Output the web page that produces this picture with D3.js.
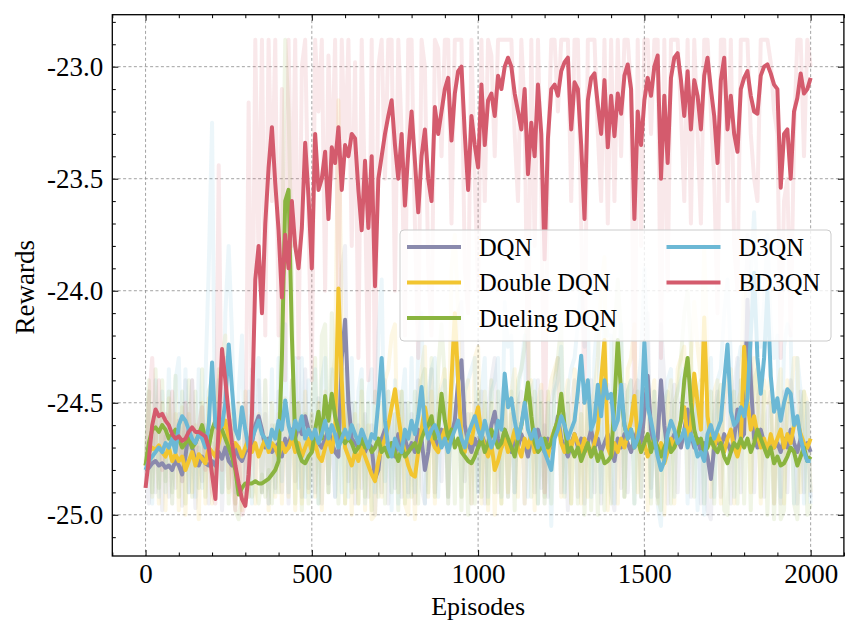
<!DOCTYPE html>
<html>
<head>
<meta charset="utf-8">
<script src="https://cdn.jsdelivr.net/npm/d3@7"></script>
<style>
  html, body { margin: 0; padding: 0; background: #fff; }
  svg { display: block; }
  text { font-family: "Liberation Serif", "Times New Roman", serif; fill: #000; }
</style>
</head>
<body>
<svg id="chart" width="845" height="622"></svg>
<script>
// Episodes sampled every 10 steps (0 .. 2000)
const episodes = d3.range(0, 2001, 10);

const seriesNames = ["DQN", "Double DQN", "Dueling DQN", "D3QN", "BD3QN"];
const seriesColors = ["#8a8aad", "#f2c530", "#8ab43f", "#6cb8d5", "#d45b6d"];

const xTicks = [0, 500, 1000, 1500, 2000];
const yTicks = [-25.0, -24.5, -24.0, -23.5, -23.0];
const yTickLabels = ["-25.0", "-24.5", "-24.0", "-23.5", "-23.0"];

// Smoothed rewards
const dqnSmooth = [
 -24.80,-24.79,-24.77,-24.76,-24.78,-24.77,-24.79,-24.78,-24.80,-24.76,
 -24.78,-24.82,-24.74,-24.62,-24.70,-24.76,-24.78,-24.74,-24.77,-24.78,
 -24.76,-24.78,-24.72,-24.75,-24.70,-24.76,-24.78,-24.70,-24.74,-24.76,
 -24.72,-24.70,-24.68,-24.60,-24.56,-24.62,-24.70,-24.66,-24.72,-24.70,
 -24.68,-24.74,-24.66,-24.70,-24.62,-24.66,-24.60,-24.64,-24.56,-24.62,
 -24.66,-24.64,-24.68,-24.70,-24.66,-24.62,-24.68,-24.72,-24.74,-24.30,
 -24.13,-24.50,-24.66,-24.68,-24.70,-24.66,-24.72,-24.68,-24.70,-24.84,
 -24.80,-24.66,-24.62,-24.70,-24.68,-24.74,-24.64,-24.70,-24.66,-24.72,
 -24.68,-24.72,-24.62,-24.66,-24.80,-24.72,-24.58,-24.66,-24.70,-24.62,
 -24.66,-24.70,-24.64,-24.58,-24.40,-24.31,-24.60,-24.68,-24.72,-24.66,
 -24.70,-24.64,-24.68,-24.72,-24.60,-24.54,-24.66,-24.70,-24.62,-24.68,
 -24.72,-24.66,-24.70,-24.64,-24.68,-24.74,-24.66,-24.70,-24.62,-24.68,
 -24.72,-24.66,-24.70,-24.64,-24.56,-24.66,-24.70,-24.74,-24.68,-24.64,
 -24.70,-24.66,-24.72,-24.68,-24.62,-24.70,-24.66,-24.72,-24.68,-24.64,
 -24.70,-24.76,-24.66,-24.70,-24.64,-24.68,-24.72,-24.66,-24.62,-24.70,
 -24.54,-24.38,-24.62,-24.70,-24.66,-24.40,-24.60,-24.72,-24.68,-24.64,
 -24.66,-24.70,-24.62,-24.53,-24.64,-24.70,-24.66,-24.72,-24.68,-24.74,
 -24.84,-24.70,-24.66,-24.70,-24.64,-24.68,-24.72,-24.66,-24.53,-24.66,
 -24.64,-24.04,-24.40,-24.66,-24.70,-24.62,-24.68,-24.72,-24.66,-24.70,
 -24.68,-24.72,-24.66,-24.70,-24.62,-24.68,-24.72,-24.66,-24.70,-24.68,
 -24.72];

const doubleSmooth = [
 -24.78,-24.72,-24.70,-24.71,-24.69,-24.72,-24.74,-24.70,-24.76,-24.73,
 -24.76,-24.74,-24.80,-24.76,-24.72,-24.78,-24.73,-24.75,-24.77,-24.70,
 -24.72,-24.74,-24.68,-24.62,-24.58,-24.66,-24.72,-24.68,-24.70,-24.74,
 -24.70,-24.66,-24.72,-24.68,-24.74,-24.70,-24.66,-24.72,-24.68,-24.70,
 -24.74,-24.68,-24.72,-24.70,-24.66,-24.72,-24.68,-24.74,-24.70,-24.66,
 -24.72,-24.68,-24.74,-24.76,-24.70,-24.66,-24.72,-24.62,-23.99,-24.40,
 -24.70,-24.74,-24.78,-24.72,-24.76,-24.70,-24.74,-24.78,-24.82,-24.85,
 -24.76,-24.70,-24.66,-24.60,-24.52,-24.44,-24.56,-24.66,-24.72,-24.78,
 -24.82,-24.83,-24.72,-24.62,-24.52,-24.60,-24.66,-24.70,-24.72,-24.66,
 -24.62,-24.70,-24.40,-24.10,-24.40,-24.66,-24.72,-24.64,-24.68,-24.58,
 -24.52,-24.64,-24.70,-24.74,-24.68,-24.80,-24.76,-24.70,-24.66,-24.72,
 -24.68,-24.62,-24.70,-24.74,-24.66,-24.70,-24.64,-24.72,-24.68,-24.66,
 -24.70,-24.74,-24.66,-24.62,-24.58,-24.68,-24.72,-24.66,-24.70,-24.64,
 -24.68,-24.72,-24.66,-24.70,-24.74,-24.68,-24.62,-24.40,-24.22,-24.70,
 -24.74,-24.68,-24.72,-24.66,-24.70,-24.64,-24.58,-24.47,-24.66,-24.72,
 -24.68,-24.74,-24.70,-24.66,-24.72,-24.68,-24.77,-24.72,-24.66,-24.70,
 -24.64,-24.58,-24.52,-24.66,-24.60,-24.37,-24.50,-24.62,-24.12,-24.56,
 -24.66,-24.70,-24.64,-24.68,-24.72,-24.66,-24.62,-24.70,-24.74,-24.68,
 -24.25,-24.50,-24.62,-24.56,-24.64,-24.70,-24.66,-24.72,-24.64,-24.70,
 -24.66,-24.62,-24.70,-24.64,-24.68,-24.60,-24.58,-24.64,-24.68,-24.70,
 -24.66];

const duelingSmooth = [
 -24.78,-24.68,-24.62,-24.61,-24.63,-24.60,-24.62,-24.66,-24.64,-24.62,
 -24.66,-24.70,-24.68,-24.66,-24.70,-24.68,-24.64,-24.60,-24.66,-24.70,
 -24.62,-24.58,-24.60,-24.62,-24.66,-24.70,-24.74,-24.80,-24.91,-24.88,
 -24.86,-24.86,-24.86,-24.85,-24.86,-24.86,-24.85,-24.84,-24.82,-24.80,
 -24.76,-24.30,-23.60,-23.55,-24.20,-24.66,-24.72,-24.76,-24.77,-24.74,
 -24.72,-24.62,-24.54,-24.66,-24.47,-24.58,-24.46,-24.56,-24.62,-24.66,
 -24.68,-24.66,-24.68,-24.72,-24.70,-24.66,-24.70,-24.68,-24.72,-24.70,
 -24.66,-24.72,-24.70,-24.74,-24.68,-24.72,-24.76,-24.70,-24.74,-24.72,
 -24.70,-24.68,-24.72,-24.66,-24.62,-24.60,-24.56,-24.66,-24.62,-24.46,
 -24.58,-24.66,-24.62,-24.70,-24.66,-24.72,-24.74,-24.76,-24.77,-24.74,
 -24.70,-24.66,-24.72,-24.68,-24.62,-24.66,-24.70,-24.68,-24.62,-24.66,
 -24.70,-24.74,-24.66,-24.60,-24.52,-24.41,-24.56,-24.68,-24.72,-24.70,
 -24.66,-24.70,-24.68,-24.62,-24.58,-24.46,-24.60,-24.72,-24.70,-24.74,
 -24.70,-24.76,-24.72,-24.68,-24.74,-24.70,-24.76,-24.72,-24.77,-24.76,
 -24.74,-24.50,-24.22,-24.46,-24.60,-24.66,-24.62,-24.70,-24.66,-24.72,
 -24.68,-24.64,-24.72,-24.66,-24.70,-24.74,-24.70,-24.66,-24.72,-24.70,
 -24.66,-24.58,-24.40,-24.30,-24.50,-24.62,-24.68,-24.66,-24.72,-24.70,
 -24.66,-24.70,-24.72,-24.68,-24.74,-24.77,-24.72,-24.68,-24.70,-24.66,
 -24.70,-24.66,-24.72,-24.68,-24.62,-24.66,-24.70,-24.74,-24.70,-24.77,
 -24.74,-24.78,-24.77,-24.74,-24.70,-24.72,-24.78,-24.74,-24.70,-24.76,
 -24.74];

const d3qnSmooth = [
 -24.80,-24.76,-24.74,-24.72,-24.70,-24.72,-24.68,-24.70,-24.66,-24.72,
 -24.60,-24.56,-24.58,-24.62,-24.66,-24.68,-24.64,-24.66,-24.70,-24.60,
 -24.32,-24.60,-24.62,-24.60,-24.50,-24.24,-24.44,-24.62,-24.66,-24.52,
 -24.62,-24.70,-24.66,-24.62,-24.58,-24.64,-24.66,-24.70,-24.62,-24.66,
 -24.58,-24.62,-24.49,-24.60,-24.66,-24.58,-24.62,-24.56,-24.66,-24.62,
 -24.66,-24.62,-24.68,-24.64,-24.58,-24.66,-24.60,-24.64,-24.70,-24.66,
 -24.62,-24.66,-24.60,-24.64,-24.68,-24.62,-24.66,-24.70,-24.64,-24.66,
 -24.50,-24.30,-24.58,-24.70,-24.74,-24.66,-24.70,-24.72,-24.62,-24.66,
 -24.58,-24.64,-24.56,-24.43,-24.60,-24.66,-24.62,-24.60,-24.64,-24.70,
 -24.66,-24.72,-24.66,-24.62,-24.58,-24.66,-24.70,-24.64,-24.60,-24.56,
 -24.62,-24.66,-24.58,-24.64,-24.70,-24.66,-24.58,-24.62,-24.37,-24.52,
 -24.48,-24.58,-24.66,-24.60,-24.50,-24.62,-24.66,-24.62,-24.70,-24.66,
 -24.72,-24.76,-24.80,-24.66,-24.62,-24.56,-24.60,-24.66,-24.62,-24.58,
 -24.45,-24.29,-24.50,-24.40,-24.62,-24.58,-24.42,-24.56,-24.40,-24.48,
 -24.46,-24.62,-24.58,-24.42,-24.60,-24.66,-24.62,-24.70,-24.66,-24.58,
 -24.23,-24.52,-24.58,-24.66,-24.74,-24.80,-24.76,-24.64,-24.58,-24.62,
 -24.68,-24.66,-24.62,-24.70,-24.64,-24.68,-24.74,-24.72,-24.76,-24.64,
 -24.60,-24.66,-24.62,-24.58,-24.40,-24.24,-24.54,-24.60,-24.58,-24.52,
 -24.56,-24.48,-24.20,-23.92,-24.30,-24.46,-24.30,-24.00,-24.38,-24.54,
 -24.48,-24.58,-24.50,-24.44,-24.46,-24.60,-24.56,-24.66,-24.72,-24.76,
 -24.76];

const bd3qnSmooth = [
 -24.88,-24.75,-24.60,-24.53,-24.56,-24.55,-24.58,-24.60,-24.64,-24.66,
 -24.65,-24.67,-24.66,-24.63,-24.61,-24.63,-24.63,-24.64,-24.65,-24.70,
 -24.82,-24.93,-24.60,-24.26,-24.40,-24.55,-24.68,-24.78,-24.86,-24.93,
 -24.96,-24.82,-24.55,-23.95,-23.80,-24.10,-23.70,-23.45,-23.27,-23.52,
 -23.73,-24.03,-23.75,-23.90,-23.60,-23.80,-23.90,-23.72,-23.34,-23.58,
 -23.90,-23.30,-23.55,-23.50,-23.38,-23.68,-23.36,-23.43,-23.27,-23.55,
 -23.35,-23.40,-23.30,-23.32,-23.55,-23.73,-23.42,-23.72,-23.40,-23.98,
 -23.50,-23.40,-23.30,-23.22,-23.15,-23.35,-23.50,-23.30,-23.62,-23.38,
 -23.20,-23.42,-23.65,-23.40,-23.28,-23.50,-23.60,-23.18,-23.30,-23.20,
 -23.10,-23.05,-23.33,-23.12,-23.02,-23.00,-23.30,-23.55,-23.22,-23.35,
 -23.45,-23.08,-23.35,-23.15,-23.12,-23.22,-23.04,-23.10,-23.00,-22.96,
 -23.00,-23.12,-23.20,-23.28,-23.10,-23.48,-23.25,-23.40,-23.08,-23.30,
 -23.86,-23.32,-23.10,-23.08,-23.13,-23.02,-22.98,-22.96,-23.28,-23.07,
 -23.10,-23.35,-23.68,-23.15,-23.05,-23.03,-23.17,-23.30,-23.06,-23.36,
 -23.13,-23.31,-23.12,-23.21,-23.04,-22.99,-23.10,-23.68,-23.20,-23.35,
 -23.15,-23.05,-23.13,-23.00,-22.95,-23.50,-23.13,-23.43,-23.05,-22.96,
 -22.94,-23.06,-23.22,-23.02,-23.28,-23.06,-23.13,-23.28,-23.04,-22.96,
 -23.10,-23.22,-23.43,-23.06,-22.96,-23.28,-23.13,-23.30,-23.38,-23.10,
 -23.05,-23.02,-23.13,-23.20,-23.21,-23.04,-23.00,-22.99,-23.03,-23.08,
 -23.10,-23.54,-23.30,-23.28,-23.50,-23.20,-23.14,-23.03,-23.12,-23.10,
 -23.05];

// Raw per-episode rewards (every 10th episode)
const dqnRaw = [
 -24.80,-24.95,-24.60,-24.90,-24.70,-24.98,-24.65,-24.92,-24.75,-24.88,
 -24.55,-24.96,-24.40,-24.90,-24.62,-24.97,-24.70,-24.85,-24.60,-24.95,
 -24.68,-24.92,-24.50,-24.98,-24.62,-24.88,-24.58,-24.95,-24.66,-24.90,
 -24.50,-24.92,-24.35,-24.85,-24.40,-24.90,-24.55,-24.95,-24.60,-24.88,
 -24.45,-24.90,-24.50,-24.95,-24.40,-24.85,-24.30,-24.92,-24.35,-24.88,
 -24.55,-24.90,-24.48,-24.95,-24.52,-24.86,-24.60,-24.92,-24.50,-23.90,
 -23.80,-24.85,-24.50,-24.95,-24.60,-24.88,-24.55,-24.92,-24.60,-25.00,
 -24.70,-24.90,-24.40,-24.95,-24.55,-24.88,-24.45,-24.92,-24.50,-24.90,
 -24.55,-24.95,-24.40,-24.88,-24.95,-24.60,-24.35,-24.90,-24.55,-24.85,
 -24.50,-24.92,-24.45,-24.35,-24.10,-24.05,-24.85,-24.55,-24.95,-24.50,
 -24.90,-24.45,-24.95,-24.55,-24.40,-24.30,-24.90,-24.50,-24.40,-24.92,
 -24.55,-24.90,-24.50,-24.45,-24.95,-24.60,-24.48,-24.90,-24.40,-24.88,
 -24.60,-24.92,-24.50,-24.42,-24.30,-24.90,-24.55,-24.98,-24.50,-24.40,
 -24.92,-24.45,-24.95,-24.50,-24.40,-24.90,-24.45,-24.95,-24.55,-24.42,
 -24.90,-24.98,-24.45,-24.88,-24.42,-24.90,-24.55,-24.45,-24.40,-24.92,
 -24.30,-24.10,-24.88,-24.50,-24.92,-24.15,-24.40,-24.95,-24.55,-24.42,
 -24.90,-24.50,-24.40,-24.30,-24.92,-24.55,-24.45,-24.95,-24.50,-24.98,
 -25.02,-24.55,-24.45,-24.92,-24.40,-24.50,-24.95,-24.45,-24.30,-24.90,
 -24.40,-23.75,-24.20,-24.90,-24.50,-24.40,-24.92,-24.55,-24.45,-24.95,
 -24.50,-24.95,-24.45,-24.90,-24.40,-24.55,-24.95,-24.45,-24.90,-24.50,
 -24.92];

const doubleRaw = [
 -24.78,-24.45,-24.92,-24.55,-24.95,-24.50,-24.98,-24.48,-24.95,-24.55,
 -24.98,-24.52,-25.00,-24.55,-24.90,-24.60,-25.02,-24.50,-24.95,-24.48,
 -24.95,-24.55,-24.40,-24.30,-24.20,-24.90,-24.55,-24.95,-24.50,-24.98,
 -24.45,-24.92,-24.50,-24.95,-24.55,-24.90,-24.40,-24.98,-24.50,-24.92,
 -24.55,-24.95,-24.48,-24.92,-24.40,-24.98,-24.50,-24.95,-24.45,-24.90,
 -24.55,-24.92,-24.50,-24.98,-24.45,-24.90,-24.40,-24.30,-23.15,-24.10,
 -24.95,-24.50,-25.00,-24.55,-24.95,-24.45,-24.98,-24.60,-25.02,-25.00,
 -24.55,-24.92,-24.40,-24.35,-24.20,-24.15,-24.90,-24.45,-24.95,-25.00,
 -24.60,-25.02,-24.50,-24.35,-24.25,-24.92,-24.45,-24.95,-24.50,-24.42,
 -24.35,-24.95,-23.90,-23.75,-24.10,-24.92,-24.50,-24.40,-24.95,-24.30,
 -24.25,-24.95,-24.45,-24.98,-24.50,-25.00,-24.60,-24.95,-24.45,-24.90,
 -24.45,-24.35,-24.92,-24.50,-24.95,-24.45,-24.40,-24.98,-24.50,-24.42,
 -24.95,-24.50,-24.40,-24.35,-24.30,-24.92,-24.50,-24.40,-24.95,-24.35,
 -24.45,-24.95,-24.40,-24.92,-24.50,-24.45,-24.30,-24.00,-23.85,-24.98,
 -24.50,-24.45,-24.95,-24.40,-24.92,-24.35,-24.30,-24.15,-24.90,-24.50,
 -24.45,-24.98,-24.50,-24.40,-24.95,-24.45,-25.00,-24.50,-24.40,-24.95,
 -24.35,-24.30,-24.25,-24.90,-24.30,-24.05,-24.25,-24.40,-23.80,-24.30,
 -24.92,-24.45,-24.40,-24.95,-24.50,-24.40,-24.35,-24.95,-24.50,-24.45,
 -23.95,-24.25,-24.90,-24.30,-24.45,-24.95,-24.40,-24.50,-24.35,-24.95,
 -24.45,-24.35,-24.95,-24.40,-24.50,-24.30,-24.30,-24.90,-24.45,-24.50,
 -24.90];

const duelingRaw = [
 -24.78,-24.40,-24.90,-24.35,-24.88,-24.40,-24.85,-24.45,-24.90,-24.38,
 -24.92,-24.45,-24.95,-24.40,-24.92,-24.45,-24.88,-24.35,-24.92,-24.45,
 -24.40,-24.88,-24.35,-24.90,-24.45,-24.95,-24.50,-24.98,-25.02,-24.90,
 -24.95,-24.80,-24.92,-24.85,-24.95,-24.82,-24.92,-24.80,-24.95,-24.60,
 -24.90,-23.90,-22.88,-23.20,-23.90,-24.95,-24.50,-24.98,-24.55,-24.95,
 -24.50,-24.30,-24.95,-24.20,-24.15,-24.90,-24.10,-24.40,-24.95,-24.50,
 -24.95,-24.45,-24.90,-24.50,-24.95,-24.40,-24.92,-24.50,-24.98,-24.45,
 -24.92,-24.50,-24.95,-24.45,-24.90,-24.55,-24.98,-24.45,-24.95,-24.50,
 -24.92,-24.45,-24.95,-24.40,-24.35,-24.90,-24.30,-24.92,-24.35,-24.15,
 -24.40,-24.92,-24.40,-24.95,-24.45,-24.98,-24.50,-25.00,-24.55,-24.95,
 -24.45,-24.92,-24.50,-24.95,-24.40,-24.90,-24.45,-24.95,-24.40,-24.92,
 -24.45,-24.98,-24.40,-24.35,-24.25,-24.10,-24.92,-24.45,-24.95,-24.50,
 -24.92,-24.45,-24.95,-24.40,-24.30,-24.15,-24.92,-24.50,-24.95,-24.55,
 -24.95,-24.55,-25.00,-24.45,-24.98,-24.50,-25.00,-24.55,-24.98,-24.60,
 -24.95,-24.20,-23.95,-24.20,-24.92,-24.45,-24.40,-24.95,-24.45,-24.92,
 -24.45,-24.40,-24.95,-24.45,-24.92,-24.98,-24.50,-24.45,-24.95,-24.50,
 -24.45,-24.30,-24.10,-24.00,-24.25,-24.92,-24.45,-24.40,-24.95,-24.50,
 -24.45,-24.95,-24.50,-24.42,-24.98,-25.00,-24.50,-24.45,-24.95,-24.40,
 -24.95,-24.45,-24.98,-24.40,-24.35,-24.92,-24.45,-25.00,-24.50,-25.02,
 -24.55,-25.02,-24.98,-24.50,-24.45,-24.95,-25.02,-24.55,-24.45,-25.00,
 -24.95];

const d3qnRaw = [
 -24.80,-24.45,-24.95,-24.40,-24.92,-24.45,-24.90,-24.35,-24.95,-24.40,
 -24.30,-24.85,-24.35,-24.90,-24.40,-24.92,-24.35,-24.88,-24.40,-23.90,
 -23.25,-24.85,-24.40,-24.90,-24.10,-23.80,-24.20,-24.90,-24.45,-24.20,
 -24.90,-24.45,-24.95,-24.35,-24.30,-24.90,-24.40,-24.95,-24.35,-24.90,
 -24.30,-24.85,-24.15,-24.90,-24.45,-24.30,-24.88,-24.30,-24.92,-24.40,
 -24.92,-24.35,-24.95,-24.40,-24.30,-24.90,-24.35,-24.92,-24.45,-24.90,
 -24.35,-24.92,-24.30,-24.88,-24.45,-24.35,-24.95,-24.45,-24.35,-24.90,
 -24.20,-23.95,-24.85,-24.45,-24.98,-24.40,-24.95,-24.50,-24.35,-24.92,
 -24.30,-24.90,-24.25,-24.10,-24.95,-24.45,-24.35,-24.30,-24.92,-24.45,
 -24.40,-24.95,-24.45,-24.35,-24.30,-24.92,-24.45,-24.40,-24.35,-24.30,
 -24.90,-24.45,-24.30,-24.92,-24.45,-24.40,-24.30,-24.92,-24.05,-24.25,
 -24.20,-24.90,-24.45,-24.35,-24.20,-24.92,-24.45,-24.40,-24.95,-24.45,
 -24.95,-24.50,-25.05,-24.45,-24.40,-24.25,-24.90,-24.45,-24.35,-24.30,
 -24.15,-23.95,-24.25,-24.10,-24.92,-24.30,-24.10,-24.90,-24.10,-24.20,
 -24.20,-24.95,-24.30,-24.15,-24.92,-24.45,-24.40,-24.95,-24.45,-24.30,
 -23.90,-24.25,-24.92,-24.45,-24.95,-25.05,-24.50,-24.40,-24.35,-24.92,
 -24.45,-24.40,-24.35,-24.95,-24.40,-24.45,-24.98,-24.50,-25.00,-24.40,
 -24.30,-24.92,-24.40,-24.35,-24.10,-23.95,-24.30,-24.92,-24.35,-24.25,
 -24.30,-24.20,-23.95,-23.65,-24.05,-24.25,-24.05,-23.75,-24.15,-24.30,
 -24.20,-24.92,-24.25,-24.15,-24.20,-24.95,-24.30,-24.45,-24.95,-24.50,
 -24.95];

const bd3qnRaw = [
 -24.88,-24.50,-24.30,-24.70,-24.40,-24.80,-24.55,-24.62,-24.45,-24.75,
 -24.58,-24.85,-24.50,-24.70,-24.40,-24.78,-24.60,-24.52,-24.80,-24.65,
 -24.90,-24.95,-23.44,-24.80,-24.30,-24.60,-24.85,-24.98,-24.70,-25.00,
 -24.95,-23.16,-24.60,-22.88,-23.90,-22.88,-24.20,-22.88,-23.60,-22.88,
 -24.20,-23.10,-24.40,-22.88,-23.80,-22.88,-24.30,-23.00,-22.88,-23.70,
 -24.40,-22.88,-23.20,-22.88,-24.00,-22.95,-23.50,-22.88,-24.10,-22.88,
 -23.40,-22.88,-23.80,-22.98,-24.30,-22.88,-23.60,-24.40,-22.88,-24.50,
 -23.00,-22.88,-23.50,-22.88,-22.88,-24.00,-22.88,-23.30,-24.20,-22.88,
 -22.88,-23.70,-24.30,-22.88,-23.00,-23.90,-24.20,-22.88,-22.92,-23.40,
 -22.88,-22.88,-23.70,-22.88,-22.88,-22.88,-23.90,-24.10,-22.88,-23.50,
 -24.00,-22.88,-23.60,-22.88,-22.95,-23.40,-22.88,-22.88,-22.88,-22.88,
 -22.88,-23.30,-23.60,-22.88,-23.20,-24.40,-22.88,-23.80,-22.88,-23.50,
 -24.90,-23.40,-22.88,-22.88,-23.20,-22.88,-22.88,-22.88,-23.60,-22.88,
 -22.88,-23.70,-24.50,-22.88,-22.88,-22.88,-23.30,-23.60,-22.88,-23.70,
 -22.88,-23.60,-22.88,-23.40,-22.88,-22.88,-23.10,-24.60,-22.88,-23.80,
 -22.88,-22.88,-23.30,-22.88,-22.88,-24.30,-22.88,-24.00,-22.88,-22.88,
 -22.88,-23.20,-23.60,-22.88,-23.70,-22.88,-23.30,-23.70,-22.88,-22.88,
 -23.20,-23.50,-24.10,-22.88,-22.88,-23.60,-22.88,-23.80,-24.00,-22.88,
 -22.88,-22.88,-23.30,-23.50,-23.60,-22.88,-22.88,-22.88,-22.98,-23.20,
 -23.30,-24.30,-23.60,-23.50,-24.20,-23.30,-22.88,-22.88,-23.40,-22.88,
 -23.00];

const smoothSeries = [dqnSmooth, doubleSmooth, duelingSmooth, d3qnSmooth, bd3qnSmooth];
const rawSeries = [dqnRaw, doubleRaw, duelingRaw, d3qnRaw, bd3qnRaw];

// ---------- layout ----------
const plot = { left: 112.3, right: 843.9, top: 14.7, bottom: 556 };
const svg = d3.select("#chart");

const x = d3.scaleLinear().domain([-100, 2100]).range([plot.left, plot.right]);
const y = d3.scaleLinear().domain([-25.184, -22.768]).range([plot.bottom, plot.top]);

svg.append("defs").append("clipPath").attr("id", "plotClip")
  .append("rect")
  .attr("x", plot.left).attr("y", plot.top)
  .attr("width", plot.right - plot.left).attr("height", plot.bottom - plot.top);

// grid
const grid = svg.append("g").attr("class", "grid");
grid.selectAll("line.gx").data(xTicks).join("line")
  .attr("x1", d => x(d)).attr("x2", d => x(d))
  .attr("y1", plot.top).attr("y2", plot.bottom)
  .attr("stroke", "#8c8c8c").attr("stroke-width", 0.8).attr("stroke-dasharray", "3,2.4");
grid.selectAll("line.gy").data(yTicks).join("line")
  .attr("y1", d => y(d)).attr("y2", d => y(d))
  .attr("x1", plot.left).attr("x2", plot.right)
  .attr("stroke", "#8c8c8c").attr("stroke-width", 0.8).attr("stroke-dasharray", "3,2.4");

const line = d3.line().x((d, i) => x(episodes[i])).y(d => y(d));

const marks = svg.append("g").attr("clip-path", "url(#plotClip)");

// raw episodes, faint
rawSeries.forEach((s, k) => {
  marks.append("path").datum(s)
    .attr("d", line)
    .attr("fill", "none")
    .attr("stroke", seriesColors[k])
    .attr("stroke-opacity", k === 4 ? 0.14 : 0.13)
    .attr("stroke-width", 4)
    .attr("stroke-linejoin", "round");
});

// smoothed curves
smoothSeries.forEach((s, k) => {
  marks.append("path").datum(s)
    .attr("d", line)
    .attr("fill", "none")
    .attr("stroke", seriesColors[k])
    .attr("stroke-width", 4)
    .attr("stroke-linejoin", "round");
});

// ---------- axes (ticks pointing inward on all sides) ----------
const tickFont = 27;
function styleAxis(g) {
  g.select(".domain").remove();
  g.selectAll(".tick line").attr("stroke", "#000").attr("stroke-width", 1);
}

const xMinor = d3.range(-100, 2101, 100).filter(v => !xTicks.includes(v));
const yMinor = d3.range(-25.1, -22.79, 0.1).map(v => +v.toFixed(1)).filter(v => !yTicks.includes(v));

// bottom
const gB = svg.append("g").attr("transform", `translate(0,${plot.bottom})`)
  .call(d3.axisBottom(x).tickValues(xTicks).tickSize(-6).tickPadding(8).tickFormat(d3.format("d")));
styleAxis(gB);
gB.selectAll(".tick text").attr("font-size", tickFont).attr("dy", "0.71em")
  .attr("font-family", "Liberation Serif, serif");
svg.append("g").attr("transform", `translate(0,${plot.bottom})`)
  .call(d3.axisBottom(x).tickValues(xMinor).tickSize(-3.5).tickFormat(""))
  .call(styleAxis);

// top
svg.append("g").attr("transform", `translate(0,${plot.top})`)
  .call(d3.axisTop(x).tickValues(xTicks).tickSize(-6).tickFormat(""))
  .call(styleAxis);
svg.append("g").attr("transform", `translate(0,${plot.top})`)
  .call(d3.axisTop(x).tickValues(xMinor).tickSize(-3.5).tickFormat(""))
  .call(styleAxis);

// left
const gL = svg.append("g").attr("transform", `translate(${plot.left},0)`)
  .call(d3.axisLeft(y).tickValues(yTicks).tickSize(-6).tickPadding(9)
    .tickFormat((d, i) => yTickLabels[i]));
styleAxis(gL);
gL.selectAll(".tick text").attr("font-size", tickFont).attr("font-family", "Liberation Serif, serif");
svg.append("g").attr("transform", `translate(${plot.left},0)`)
  .call(d3.axisLeft(y).tickValues(yMinor).tickSize(-3.5).tickFormat(""))
  .call(styleAxis);

// right
svg.append("g").attr("transform", `translate(${plot.right},0)`)
  .call(d3.axisRight(y).tickValues(yTicks).tickSize(-6).tickFormat(""))
  .call(styleAxis);
svg.append("g").attr("transform", `translate(${plot.right},0)`)
  .call(d3.axisRight(y).tickValues(yMinor).tickSize(-3.5).tickFormat(""))
  .call(styleAxis);

// frame
svg.append("rect")
  .attr("x", plot.left).attr("y", plot.top)
  .attr("width", plot.right - plot.left).attr("height", plot.bottom - plot.top)
  .attr("fill", "none").attr("stroke", "#000").attr("stroke-width", 1.3);

// axis titles
svg.append("text")
  .attr("x", (x(0) + x(2000)) / 2).attr("y", 615)
  .attr("text-anchor", "middle").attr("font-size", 26)
  .text("Episodes");
svg.append("text")
  .attr("transform", `translate(34,${(plot.top + plot.bottom) / 2 + 2}) rotate(-90)`)
  .attr("text-anchor", "middle").attr("font-size", 27)
  .text("Rewards");

// ---------- legend ----------
const legend = svg.append("g").attr("transform", "translate(400,230)");
legend.append("rect")
  .attr("x", 0).attr("y", 0).attr("width", 431).attr("height", 111)
  .attr("rx", 4).attr("ry", 4)
  .attr("fill", "#fff").attr("fill-opacity", 0.8)
  .attr("stroke", "#cccccc").attr("stroke-width", 1);

const legendPos = [
  { col: 0, row: 0 }, { col: 0, row: 1 }, { col: 0, row: 2 },
  { col: 1, row: 0 }, { col: 1, row: 1 }
];
const colX = [7, 266.5];
const rowY = [17, 52.5, 88];
seriesNames.forEach((name, k) => {
  const p = legendPos[k];
  const g = legend.append("g").attr("transform", `translate(${colX[p.col]},${rowY[p.row]})`);
  g.append("line").attr("x1", 0).attr("x2", 54).attr("y1", 0).attr("y2", 0)
    .attr("stroke", seriesColors[k]).attr("stroke-width", 4);
  g.append("text").attr("x", 72).attr("y", 0).attr("dy", "0.35em")
    .attr("font-size", 24.5).text(name);
});
</script>
</body>
</html>
